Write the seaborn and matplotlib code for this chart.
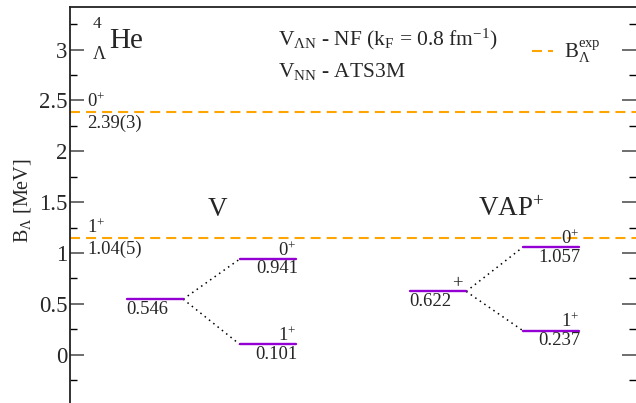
import numpy as np
import pandas as pd
import seaborn as sns
import matplotlib
matplotlib.use("Agg")
from matplotlib import pyplot as plt
from matplotlib.ticker import MultipleLocator, FuncFormatter
from matplotlib.lines import Line2D

# level energies [MeV]
v_levels = [0.546, 0.941, 0.101]
v_labels = ["0.546", "0.941", "0.101"]
vap_levels = [0.622, 1.057, 0.237]
vap_labels = ["0.622", "1.057", "0.237"]
spin_labels = ["0$^{+}$", "1$^{+}$"]

# experimental values
exp_values = [2.39, 1.15]
exp_labels = ["2.39(3)", "1.04(5)"]
exp_spins = ["0$^{+}$", "1$^{+}$"]

PURPLE = "#9400D3"
ORANGE = "#FFA500"

sns.set_theme(style="ticks")
plt.rcParams["font.family"] = ["Liberation Serif", "DejaVu Serif"]
plt.rcParams["mathtext.fontset"] = "custom"
plt.rcParams["mathtext.rm"] = "Liberation Serif"
plt.rcParams["mathtext.it"] = "Liberation Serif:italic"
plt.rcParams["mathtext.bf"] = "Liberation Serif:bold"

W, H = 636, 403
fig = plt.figure(figsize=(W / 100, H / 100), dpi=100)
ax = fig.add_axes([70 / W, 0, 566 / W, 396 / H])

def fpos(x, y):
    # pixel position -> figure fraction
    return x / W, 1 - y / H

# level segments: (column start, energy) for each level
segs = []
for name, levels, x0 in [("V", v_levels, 1.0), ("VAP", vap_levels, 6.0)]:
    segs.append((f"{name}0", x0, levels[0]))
    segs.append((f"{name}0", x0 + 1, levels[0]))
    for i, e in enumerate(levels[1:]):
        segs.append((f"{name}{i+1}", x0 + 2, e))
        segs.append((f"{name}{i+1}", x0 + 3, e))
df = pd.DataFrame(segs, columns=["level", "x", "E"])

for e in exp_values:
    ax.axhline(e, color=ORANGE, lw=1.5, dashes=(4.8, 2.9), zorder=1)

sns.lineplot(data=df, x="x", y="E", units="level", estimator=None,
             color=PURPLE, lw=1.7, ax=ax, zorder=3)

# dotted connectors
for levels, x0 in [(v_levels, 1.0), (vap_levels, 6.0)]:
    for e in levels[1:]:
        ax.plot([x0 + 1, x0 + 2], [levels[0], e], color="black", lw=1.1,
                dashes=(1, 2.6), zorder=2)

fs_lab = 13.4
for levels, labels, x0, left_sym in [(v_levels, v_labels, 1.0, None),
                                     (vap_levels, vap_labels, 6.0, "+")]:
    ax.annotate(labels[0], xy=(x0, levels[0]), xytext=(0, -1),
                textcoords="offset points", ha="left", va="top", fontsize=fs_lab)
    if left_sym:
        ax.annotate(left_sym, xy=(x0 + 1, levels[0]), xytext=(-2.5, -0.5),
                    textcoords="offset points", ha="right", va="bottom", fontsize=fs_lab)
    for e, lab, sp in zip(levels[1:], labels[1:], spin_labels):
        ax.annotate(lab, xy=(x0 + 3, e), xytext=(1, -1),
                    textcoords="offset points", ha="right", va="top", fontsize=fs_lab)
        ax.annotate(sp, xy=(x0 + 3, e), xytext=(0, 2.5),
                    textcoords="offset points", ha="right", va="baseline", fontsize=fs_lab)

for e, lab, sp in zip(exp_values, exp_labels, exp_spins):
    ax.annotate(sp, xy=(0.3, e), xytext=(0, 3.5), textcoords="offset points",
                ha="left", va="baseline", fontsize=fs_lab)
    ax.annotate(lab, xy=(0.3, e), xytext=(0, -12), textcoords="offset points",
                ha="left", va="baseline", fontsize=fs_lab)

# column titles
fig.text(*fpos(217, 216), "V", fontsize=19.5, ha="center", va="baseline")
fig.text(*fpos(478, 216), "VAP$^{+}$", fontsize=19.5, ha="left", va="baseline")

# nucleus
fig.text(*fpos(109, 48), "He", fontsize=21, ha="left", va="baseline")
fig.text(*fpos(93, 28), "4", fontsize=12.5, ha="left", va="baseline")
fig.text(*fpos(93, 59), "Λ", fontsize=13, ha="left", va="baseline")

# interaction info
fig.text(*fpos(278, 45), r"V$_{\Lambda\mathrm{N}}$ - NF (k$_\mathrm{F}$ = 0.8 fm$^{-1}$)",
         fontsize=15.5, ha="left", va="baseline")
fig.text(*fpos(278, 77), r"V$_\mathrm{NN}$ - ATS3M", fontsize=15.5, ha="left", va="baseline")

handle = Line2D([], [], color=ORANGE, lw=1.5, dashes=(4.8, 2.9))
ax.legend([handle], [r"B$_{\Lambda}^{\mathrm{exp}}$"], loc="center left",
          bbox_to_anchor=((532 - 70) / 566, 1 - (52 - 7) / 396), frameon=False,
          borderpad=0, borderaxespad=0, handlelength=1.0, handletextpad=0.55,
          fontsize=15)

ax.set_xlim(0, 10)
ax.set_ylim((354.7 - 403) / 101.7, (354.7 - 7) / 101.7)
ax.set_xticks([])
ax.set_xlabel("")
ax.yaxis.set_major_locator(MultipleLocator(0.5))
ax.yaxis.set_minor_locator(MultipleLocator(0.25))
ax.yaxis.set_major_formatter(FuncFormatter(lambda v, p: f"{v:g}"))
ax.tick_params(axis="y", which="both", direction="in", left=True, right=True,
               labelsize=16.5, pad=2)
ax.tick_params(axis="y", which="major", length=10, width=1.2, color="#555555")
ax.tick_params(axis="y", which="minor", length=5, width=1, color="black")
ax.set_ylabel(r"B$_{\Lambda}$ [MeV]", fontsize=14.5)
ax.yaxis.set_label_coords(-(70 - 33) / 566, 1 - (201 - 7) / 396)
for s in ["right", "bottom"]:
    ax.spines[s].set_visible(False)
for s in ["left", "top"]:
    ax.spines[s].set_linewidth(1.3)
    ax.spines[s].set_color("#222222")

fig.savefig("out.png", dpi=100)
